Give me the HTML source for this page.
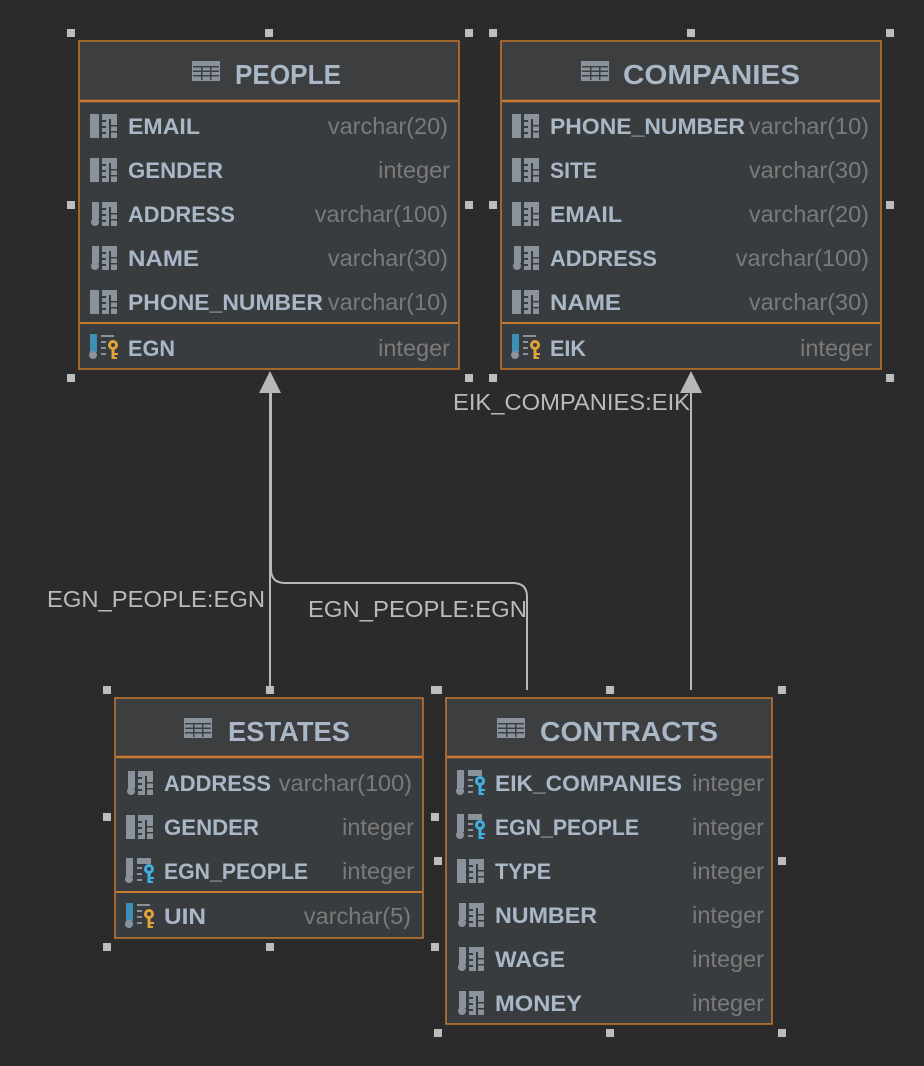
<!DOCTYPE html>
<html><head><meta charset="utf-8"><style>
html,body{margin:0;padding:0;background:#2b2b2b;}
svg{display:block}
.n{font-family:"Liberation Sans",sans-serif;font-weight:bold;font-size:22px;fill:#a9b7c6}
.t{font-family:"Liberation Sans",sans-serif;font-size:23.5px;fill:#7a7a7a;text-anchor:end}
.h{font-family:"Liberation Sans",sans-serif;font-weight:bold;font-size:28px;fill:#a9b7c6}
.l{font-family:"Liberation Sans",sans-serif;font-size:23.5px;fill:#bbbbbb}
.hd{fill:#bdbdbd}
</style></head><body>
<svg width="924" height="1066" viewBox="0 0 924 1066" xmlns="http://www.w3.org/2000/svg">
<defs>
<symbol id="tb" viewBox="0 0 28 20" width="28" height="20"><rect x="0" y="0" width="28" height="20" fill="#8a939b"/><g fill="#3c3f41"><rect x="1" y="5" width="26" height="1.5"/><rect x="1" y="9.5" width="26" height="1.5"/><rect x="1" y="14" width="26" height="1.5"/><rect x="9" y="5" width="1.5" height="14"/><rect x="18" y="5" width="1.5" height="14"/></g></symbol>
<symbol id="col" viewBox="0 0 28 24" width="28" height="24"><rect x="0" y="0" width="9" height="24" fill="#8a939b"/><rect x="12" y="0" width="15" height="24" fill="#8a939b"/><g fill="#393c3f"><rect x="12" y="6" width="4" height="2"/><rect x="12" y="12" width="4" height="2"/><rect x="12" y="18" width="4" height="2"/><rect x="19" y="5" width="2" height="19"/><rect x="21" y="11" width="6" height="1.5"/><rect x="21" y="17" width="6" height="1.5"/></g></symbol>
<symbol id="colc" viewBox="0 0 28 24" width="28" height="24"><rect x="2" y="0" width="7" height="17" fill="#8a939b"/><circle cx="5" cy="20" r="4" fill="#8a939b"/><rect x="12" y="0" width="15" height="24" fill="#8a939b"/><g fill="#393c3f"><rect x="12" y="6" width="4" height="2"/><rect x="12" y="12" width="4" height="2"/><rect x="12" y="18" width="4" height="2"/><rect x="19" y="5" width="2" height="19"/><rect x="21" y="11" width="6" height="1.5"/><rect x="21" y="17" width="6" height="1.5"/></g></symbol>
<symbol id="pk" viewBox="0 0 34 26" width="34" height="26"><rect x="2" y="0" width="7" height="18" fill="#3d8fb5"/><circle cx="5" cy="21" r="4" fill="#8a939b"/><rect x="13" y="1" width="13" height="2" fill="#8a939b"/><rect x="13" y="7" width="5" height="2" fill="#8a939b"/><rect x="13" y="13" width="5" height="2" fill="#8a939b"/><rect x="13" y="19" width="5" height="2" fill="#8a939b"/><circle cx="25" cy="11" r="5" fill="#e0a43a"/><circle cx="25" cy="11" r="2" fill="#393c3f"/><rect x="23.5" y="14" width="3" height="11" fill="#e0a43a"/><rect x="26" y="19" width="4" height="2" fill="#e0a43a"/><rect x="26" y="23" width="3" height="2" fill="#e0a43a"/></symbol>
<symbol id="fk" viewBox="0 0 34 26" width="34" height="26"><rect x="2" y="0" width="7" height="18" fill="#8a939b"/><circle cx="5" cy="21" r="4" fill="#8a939b"/><rect x="13" y="0" width="14" height="6" fill="#8a939b"/><rect x="13" y="9" width="5" height="2" fill="#8a939b"/><rect x="13" y="15" width="5" height="2" fill="#8a939b"/><rect x="13" y="21" width="5" height="2" fill="#8a939b"/><circle cx="25" cy="11" r="5" fill="#3fb0e0"/><circle cx="25" cy="11" r="2" fill="#393c3f"/><rect x="23.5" y="14" width="3" height="11" fill="#3fb0e0"/><rect x="26" y="19" width="4" height="2" fill="#3fb0e0"/><rect x="26" y="23" width="3" height="2" fill="#3fb0e0"/></symbol>
</defs>

<g stroke="#b8b8b8" stroke-width="2" fill="none">
<line x1="270" y1="690" x2="270" y2="392"/>
<path d="M527 690 V597 Q527 583 513 583 H285 Q271 583 271 569 V392"/>
<line x1="691" y1="690" x2="691" y2="392"/>
</g>
<polygon points="270,371 259,393 281,393" fill="#b8b8b8"/>
<polygon points="691,371 680,393 702,393" fill="#b8b8b8"/>
<text class="l" x="47" y="607" textLength="218" lengthAdjust="spacingAndGlyphs">EGN_PEOPLE:EGN</text>
<text class="l" x="308" y="617" textLength="219" lengthAdjust="spacingAndGlyphs">EGN_PEOPLE:EGN</text>
<text class="l" x="453" y="410" textLength="237" lengthAdjust="spacingAndGlyphs">EIK_COMPANIES:EIK</text>

<!-- PEOPLE -->
<rect x="79" y="41" width="380" height="328" fill="#393c3f" stroke="#c7792f" stroke-width="1.5"/>
<rect x="80" y="42" width="378" height="59" fill="#3d3e40"/>
<line x1="80" y1="101" x2="458" y2="101" stroke="#c7792f" stroke-width="2.5"/>
<line x1="80" y1="323" x2="458" y2="323" stroke="#c7792f" stroke-width="2"/>
<use href="#tb" x="192" y="61"/>
<text class="h" x="235" y="84" textLength="106" lengthAdjust="spacingAndGlyphs">PEOPLE</text>
<use href="#col" x="90" y="114"/><text class="n" x="128" y="134" textLength="72" lengthAdjust="spacingAndGlyphs">EMAIL</text><text class="t" x="448" y="134">varchar(20)</text>
<use href="#col" x="90" y="158"/><text class="n" x="128" y="178" textLength="95" lengthAdjust="spacingAndGlyphs">GENDER</text><text class="t" x="450" y="178">integer</text>
<use href="#colc" x="90" y="202"/><text class="n" x="128" y="222" textLength="107" lengthAdjust="spacingAndGlyphs">ADDRESS</text><text class="t" x="448" y="222">varchar(100)</text>
<use href="#colc" x="90" y="246"/><text class="n" x="128" y="266" textLength="71" lengthAdjust="spacingAndGlyphs">NAME</text><text class="t" x="448" y="266">varchar(30)</text>
<use href="#col" x="90" y="290"/><text class="n" x="128" y="310" textLength="195" lengthAdjust="spacingAndGlyphs">PHONE_NUMBER</text><text class="t" x="448" y="310">varchar(10)</text>
<use href="#pk" x="88" y="334"/><text class="n" x="128" y="356" textLength="47" lengthAdjust="spacingAndGlyphs">EGN</text><text class="t" x="450" y="356">integer</text>

<!-- COMPANIES -->
<rect x="501" y="41" width="380" height="328" fill="#393c3f" stroke="#c7792f" stroke-width="1.5"/>
<rect x="502" y="42" width="378" height="59" fill="#3d3e40"/>
<line x1="502" y1="101" x2="880" y2="101" stroke="#c7792f" stroke-width="2.5"/>
<line x1="502" y1="323" x2="880" y2="323" stroke="#c7792f" stroke-width="2"/>
<use href="#tb" x="581" y="61"/>
<text class="h" x="623" y="84" textLength="177" lengthAdjust="spacingAndGlyphs">COMPANIES</text>
<use href="#col" x="512" y="114"/><text class="n" x="550" y="134" textLength="195" lengthAdjust="spacingAndGlyphs">PHONE_NUMBER</text><text class="t" x="869" y="134">varchar(10)</text>
<use href="#col" x="512" y="158"/><text class="n" x="550" y="178" textLength="47" lengthAdjust="spacingAndGlyphs">SITE</text><text class="t" x="869" y="178">varchar(30)</text>
<use href="#col" x="512" y="202"/><text class="n" x="550" y="222" textLength="72" lengthAdjust="spacingAndGlyphs">EMAIL</text><text class="t" x="869" y="222">varchar(20)</text>
<use href="#colc" x="512" y="246"/><text class="n" x="550" y="266" textLength="107" lengthAdjust="spacingAndGlyphs">ADDRESS</text><text class="t" x="869" y="266">varchar(100)</text>
<use href="#col" x="512" y="290"/><text class="n" x="550" y="310" textLength="71" lengthAdjust="spacingAndGlyphs">NAME</text><text class="t" x="869" y="310">varchar(30)</text>
<use href="#pk" x="510" y="334"/><text class="n" x="550" y="356" textLength="36" lengthAdjust="spacingAndGlyphs">EIK</text><text class="t" x="872" y="356">integer</text>

<!-- ESTATES -->
<rect x="115" y="698" width="308" height="240" fill="#393c3f" stroke="#c7792f" stroke-width="1.5"/>
<rect x="116" y="699" width="306" height="58" fill="#3d3e40"/>
<line x1="116" y1="757" x2="422" y2="757" stroke="#c7792f" stroke-width="2.5"/>
<line x1="116" y1="892" x2="422" y2="892" stroke="#c7792f" stroke-width="2"/>
<use href="#tb" x="184" y="718"/>
<text class="h" x="228" y="741" textLength="122" lengthAdjust="spacingAndGlyphs">ESTATES</text>
<use href="#colc" x="126" y="771"/><text class="n" x="164" y="791" textLength="107" lengthAdjust="spacingAndGlyphs">ADDRESS</text><text class="t" x="412" y="791">varchar(100)</text>
<use href="#col" x="126" y="815"/><text class="n" x="164" y="835" textLength="95" lengthAdjust="spacingAndGlyphs">GENDER</text><text class="t" x="414" y="835">integer</text>
<use href="#fk" x="124" y="858"/><text class="n" x="164" y="879" textLength="144" lengthAdjust="spacingAndGlyphs">EGN_PEOPLE</text><text class="t" x="414" y="879">integer</text>
<use href="#pk" x="124" y="903"/><text class="n" x="164" y="924" textLength="42" lengthAdjust="spacingAndGlyphs">UIN</text><text class="t" x="411" y="924">varchar(5)</text>

<!-- CONTRACTS -->
<rect x="446" y="698" width="326" height="326" fill="#393c3f" stroke="#c7792f" stroke-width="1.5"/>
<rect x="447" y="699" width="324" height="58" fill="#3d3e40"/>
<line x1="447" y1="757" x2="771" y2="757" stroke="#c7792f" stroke-width="2.5"/>
<use href="#tb" x="497" y="718"/>
<text class="h" x="540" y="741" textLength="178" lengthAdjust="spacingAndGlyphs">CONTRACTS</text>
<use href="#fk" x="455" y="770"/><text class="n" x="495" y="791" textLength="187" lengthAdjust="spacingAndGlyphs">EIK_COMPANIES</text><text class="t" x="764" y="791">integer</text>
<use href="#fk" x="455" y="814"/><text class="n" x="495" y="835" textLength="144" lengthAdjust="spacingAndGlyphs">EGN_PEOPLE</text><text class="t" x="764" y="835">integer</text>
<use href="#col" x="457" y="859"/><text class="n" x="495" y="879" textLength="56" lengthAdjust="spacingAndGlyphs">TYPE</text><text class="t" x="764" y="879">integer</text>
<use href="#colc" x="457" y="903"/><text class="n" x="495" y="923" textLength="102" lengthAdjust="spacingAndGlyphs">NUMBER</text><text class="t" x="764" y="923">integer</text>
<use href="#colc" x="457" y="947"/><text class="n" x="495" y="967" textLength="70" lengthAdjust="spacingAndGlyphs">WAGE</text><text class="t" x="764" y="967">integer</text>
<use href="#colc" x="457" y="991"/><text class="n" x="495" y="1011" textLength="87" lengthAdjust="spacingAndGlyphs">MONEY</text><text class="t" x="764" y="1011">integer</text>

<g class="hd">
<rect x="67" y="29" width="8" height="8"/><rect x="265" y="29" width="8" height="8"/><rect x="465" y="29" width="8" height="8"/>
<rect x="67" y="201" width="8" height="8"/><rect x="465" y="201" width="8" height="8"/>
<rect x="67" y="374" width="8" height="8"/><rect x="465" y="374" width="8" height="8"/>
<rect x="489" y="29" width="8" height="8"/><rect x="687" y="29" width="8" height="8"/><rect x="886" y="29" width="8" height="8"/>
<rect x="489" y="201" width="8" height="8"/><rect x="886" y="201" width="8" height="8"/>
<rect x="489" y="374" width="8" height="8"/><rect x="886" y="374" width="8" height="8"/>
<rect x="103" y="686" width="8" height="8"/><rect x="266" y="686" width="8" height="8"/><rect x="431" y="686" width="8" height="8"/>
<rect x="103" y="813" width="8" height="8"/><rect x="431" y="813" width="8" height="8"/>
<rect x="103" y="943" width="8" height="8"/><rect x="266" y="943" width="8" height="8"/><rect x="431" y="943" width="8" height="8"/>
<rect x="434" y="686" width="8" height="8"/><rect x="606" y="686" width="8" height="8"/><rect x="778" y="686" width="8" height="8"/>
<rect x="434" y="857" width="8" height="8"/><rect x="778" y="857" width="8" height="8"/>
<rect x="434" y="1029" width="8" height="8"/><rect x="606" y="1029" width="8" height="8"/><rect x="778" y="1029" width="8" height="8"/>
</g>
</svg>
</body></html>
